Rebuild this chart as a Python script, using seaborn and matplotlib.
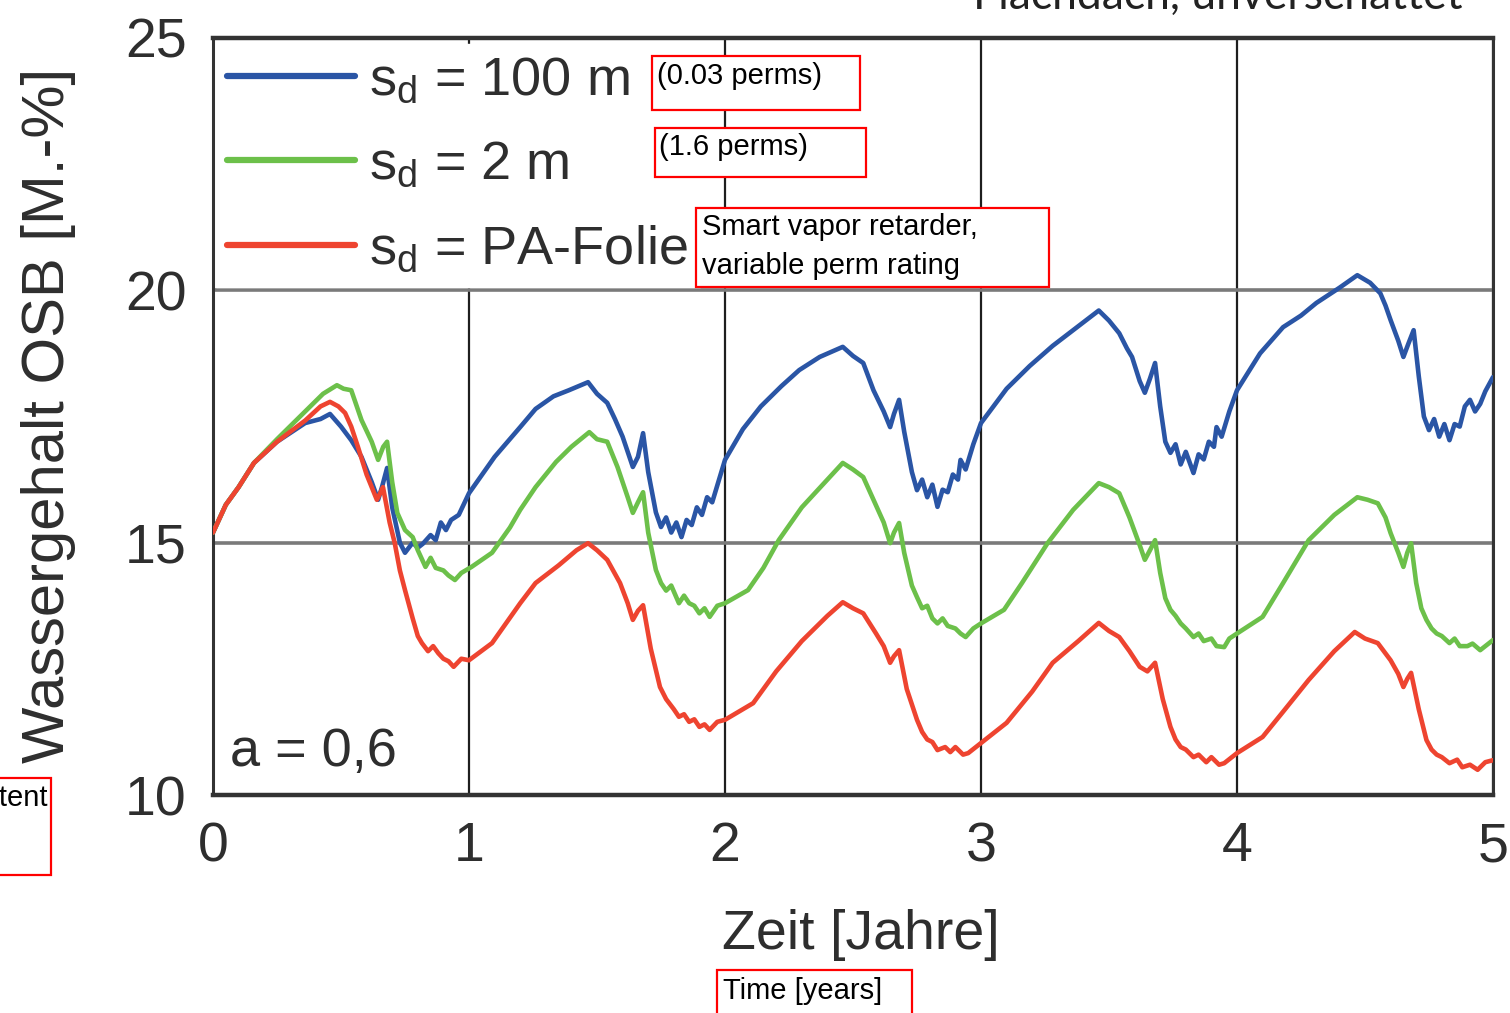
import numpy as np
import pandas as pd
import matplotlib
matplotlib.use("Agg")
import matplotlib.pyplot as plt
import seaborn as sns
from matplotlib.patches import Rectangle
from matplotlib.lines import Line2D

# ---------------- data ----------------
series_labels = ["s$_\\mathregular{d}$ = 100 m", "s$_\\mathregular{d}$ = 2 m", "s$_\\mathregular{d}$ = PA-Folie"]
series_colors = ["#2a55a5", "#6cc04a", "#ee4430"]

t_blue = [0.00, 0.05, 0.10, 0.16, 0.25, 0.36, 0.42, 0.457, 0.50, 0.54, 0.58, 0.62, 0.645, 0.66, 0.68, 0.70, 0.73, 0.75,
          0.78, 0.80, 0.82, 0.85, 0.87, 0.89, 0.91, 0.93, 0.96, 1.00, 1.10, 1.20, 1.26, 1.33, 1.39, 1.465, 1.50, 1.54,
          1.57, 1.60, 1.64, 1.66, 1.68, 1.70, 1.73, 1.75, 1.77, 1.79, 1.81, 1.83, 1.85, 1.87, 1.89, 1.91, 1.93, 1.95,
          2.00, 2.07, 2.14, 2.22, 2.29, 2.37, 2.46, 2.50, 2.54, 2.58, 2.62, 2.645, 2.66, 2.68, 2.70, 2.73, 2.75, 2.77,
          2.79, 2.81, 2.83, 2.85, 2.87, 2.89, 2.91, 2.92, 2.94, 2.97, 3.00, 3.10, 3.19, 3.28, 3.36, 3.46, 3.50, 3.54,
          3.57, 3.59, 3.62, 3.64, 3.66, 3.68, 3.70, 3.72, 3.74, 3.76, 3.78, 3.80, 3.83, 3.85, 3.87, 3.89, 3.91, 3.92,
          3.94, 3.97, 4.00, 4.09, 4.18, 4.25, 4.31, 4.40, 4.47, 4.52, 4.56, 4.58, 4.60, 4.63, 4.65, 4.67, 4.69, 4.71,
          4.73, 4.75, 4.77, 4.79, 4.81, 4.83, 4.85, 4.87, 4.89, 4.91, 4.93, 4.95, 4.97, 5.00]
v_blue = [15.20, 15.75, 16.10, 16.58, 17.00, 17.37, 17.45, 17.55, 17.30, 17.03, 16.70, 16.20, 15.85, 16.10, 16.48, 15.70,
          15.00, 14.80, 15.00, 14.90, 14.98, 15.15, 15.05, 15.40, 15.25, 15.45, 15.55, 15.98, 16.70, 17.29, 17.65, 17.90,
          18.02, 18.18, 17.95, 17.77, 17.45, 17.10, 16.50, 16.70, 17.17, 16.40, 15.60, 15.31, 15.50, 15.20, 15.40, 15.11,
          15.45, 15.35, 15.70, 15.55, 15.90, 15.80, 16.64, 17.25, 17.70, 18.10, 18.42, 18.68, 18.88, 18.70, 18.56, 18.02,
          17.60, 17.29, 17.55, 17.83, 17.20, 16.40, 16.04, 16.25, 15.90, 16.15, 15.71, 16.05, 16.00, 16.35, 16.25, 16.64,
          16.45, 16.95, 17.37, 18.05, 18.50, 18.90, 19.21, 19.60, 19.40, 19.15, 18.85, 18.68, 18.20, 17.97, 18.25, 18.56,
          17.70, 17.00, 16.78, 16.95, 16.55, 16.80, 16.38, 16.75, 16.65, 17.00, 16.90, 17.29, 17.10, 17.60, 18.02, 18.75,
          19.27, 19.50, 19.75, 20.05, 20.30, 20.15, 19.94, 19.70, 19.41, 19.00, 18.68, 18.95, 19.21, 18.30, 17.50, 17.23,
          17.45, 17.10, 17.35, 17.03, 17.35, 17.30, 17.70, 17.83, 17.60, 17.75, 18.00, 18.28]

t_green = [0.00, 0.05, 0.10, 0.16, 0.25, 0.36, 0.43, 0.484, 0.51, 0.54, 0.58, 0.62, 0.645, 0.665, 0.68, 0.70, 0.72, 0.75,
           0.78, 0.80, 0.83, 0.85, 0.87, 0.90, 0.92, 0.945, 0.97, 1.01, 1.09, 1.16, 1.20, 1.26, 1.34, 1.40, 1.47, 1.50,
           1.54, 1.58, 1.62, 1.64, 1.66, 1.68, 1.70, 1.73, 1.75, 1.77, 1.79, 1.82, 1.84, 1.86, 1.88, 1.90, 1.92, 1.94,
           1.97, 2.00, 2.09, 2.15, 2.21, 2.30, 2.40, 2.46, 2.50, 2.54, 2.58, 2.62, 2.645, 2.66, 2.68, 2.70, 2.73, 2.75,
           2.77, 2.79, 2.81, 2.83, 2.85, 2.87, 2.90, 2.92, 2.94, 2.97, 3.00, 3.09, 3.16, 3.26, 3.36, 3.46, 3.50, 3.54,
           3.58, 3.62, 3.64, 3.66, 3.68, 3.70, 3.72, 3.74, 3.76, 3.78, 3.80, 3.83, 3.85, 3.87, 3.90, 3.92, 3.95, 3.97,
           4.00, 4.10, 4.18, 4.28, 4.38, 4.47, 4.51, 4.55, 4.58, 4.60, 4.63, 4.65, 4.665, 4.68, 4.70, 4.72, 4.74, 4.76,
           4.78, 4.80, 4.83, 4.85, 4.87, 4.90, 4.92, 4.95, 4.97, 5.00]
v_green = [15.20, 15.75, 16.10, 16.58, 17.05, 17.60, 17.95, 18.12, 18.05, 18.02, 17.43, 17.00, 16.64, 16.90, 17.00, 16.20,
           15.59, 15.25, 15.11, 14.85, 14.52, 14.70, 14.50, 14.45, 14.35, 14.26, 14.40, 14.52, 14.80, 15.30, 15.65, 16.10,
           16.60, 16.90, 17.19, 17.05, 17.00, 16.50, 15.90, 15.59, 15.80, 16.00, 15.20, 14.46, 14.20, 14.05, 14.15, 13.80,
           13.95, 13.80, 13.75, 13.60, 13.70, 13.53, 13.75, 13.80, 14.06, 14.50, 15.05, 15.70, 16.25, 16.58, 16.45, 16.30,
           15.85, 15.40, 14.99, 15.20, 15.39, 14.80, 14.15, 13.92, 13.70, 13.75, 13.50, 13.40, 13.50, 13.35, 13.30, 13.20,
           13.13, 13.30, 13.40, 13.67, 14.20, 14.99, 15.65, 16.18, 16.10, 15.98, 15.50, 14.95, 14.66, 14.85, 15.05, 14.40,
           13.90, 13.67, 13.55, 13.40, 13.30, 13.13, 13.20, 13.05, 13.10, 12.95, 12.93, 13.10, 13.20, 13.53, 14.20, 15.05,
           15.55, 15.90, 15.85, 15.78, 15.50, 15.19, 14.80, 14.52, 14.80, 14.99, 14.20, 13.70, 13.47, 13.30, 13.20, 13.15,
           13.01, 13.10, 12.95, 12.95, 13.00, 12.87, 12.95, 13.07]

t_red = [0.00, 0.05, 0.10, 0.16, 0.25, 0.36, 0.42, 0.457, 0.49, 0.516, 0.54, 0.566, 0.60, 0.64, 0.655, 0.664, 0.69, 0.71,
         0.73, 0.75, 0.78, 0.80, 0.816, 0.84, 0.86, 0.88, 0.90, 0.92, 0.94, 0.97, 1.00, 1.09, 1.20, 1.26, 1.35, 1.42,
         1.465, 1.50, 1.54, 1.59, 1.62, 1.64, 1.66, 1.68, 1.71, 1.746, 1.77, 1.80, 1.82, 1.84, 1.86, 1.88, 1.90, 1.92,
         1.94, 1.97, 2.00, 2.11, 2.20, 2.30, 2.40, 2.46, 2.50, 2.54, 2.59, 2.62, 2.645, 2.66, 2.68, 2.71, 2.75, 2.77,
         2.79, 2.81, 2.83, 2.86, 2.88, 2.90, 2.93, 2.95, 2.98, 3.00, 3.10, 3.20, 3.28, 3.38, 3.46, 3.50, 3.54, 3.58,
         3.62, 3.65, 3.68, 3.71, 3.74, 3.76, 3.78, 3.80, 3.83, 3.85, 3.88, 3.90, 3.93, 3.95, 3.98, 4.00, 4.10, 4.18,
         4.28, 4.38, 4.46, 4.50, 4.55, 4.60, 4.63, 4.65, 4.665, 4.68, 4.71, 4.74, 4.76, 4.78, 4.80, 4.83, 4.86, 4.88,
         4.91, 4.94, 4.97, 5.00]
v_red = [15.20, 15.75, 16.10, 16.58, 17.00, 17.42, 17.70, 17.79, 17.70, 17.57, 17.30, 16.90, 16.35, 15.85, 16.00, 16.10,
         15.40, 14.99, 14.45, 14.06, 13.50, 13.15, 13.01, 12.85, 12.95, 12.81, 12.70, 12.65, 12.54, 12.70, 12.67, 13.01,
         13.80, 14.20, 14.55, 14.85, 14.99, 14.85, 14.66, 14.20, 13.80, 13.47, 13.65, 13.76, 12.90, 12.14, 11.90, 11.70,
         11.55, 11.60, 11.45, 11.50, 11.35, 11.40, 11.29, 11.45, 11.49, 11.82, 12.45, 13.05, 13.55, 13.82, 13.70, 13.60,
         13.20, 12.95, 12.62, 12.75, 12.87, 12.10, 11.49, 11.25, 11.10, 11.05, 10.89, 10.95, 10.85, 10.95, 10.80, 10.83,
         10.95, 11.03, 11.43, 12.05, 12.62, 13.05, 13.41, 13.25, 13.13, 12.85, 12.54, 12.45, 12.62, 11.90, 11.35, 11.10,
         10.95, 10.90, 10.75, 10.80, 10.65, 10.75, 10.60, 10.63, 10.75, 10.83, 11.15, 11.65, 12.28, 12.85, 13.23, 13.10,
         13.01, 12.67, 12.40, 12.14, 12.30, 12.42, 11.70, 11.09, 10.90, 10.80, 10.75, 10.63, 10.70, 10.55, 10.60, 10.50,
         10.65, 10.69]

x_ticks = [0, 1, 2, 3, 4, 5]
y_ticks = [10, 15, 20, 25]
x_label = "Zeit [Jahre]"
y_label = "Wassergehalt OSB [M.-%]"

# ---------------- style ----------------
sns.set_style("white")
plt.rcParams['font.family'] = ['Liberation Sans', 'DejaVu Sans']
plt.rcParams['mathtext.fontset'] = 'custom'
plt.rcParams['mathtext.rm'] = 'Liberation Sans'
plt.rcParams['mathtext.it'] = 'Liberation Sans'
plt.rcParams['mathtext.default'] = 'regular'

TXT = "#2e2e2e"
W, H = 1510, 1013
fig = plt.figure(figsize=(W / 100, H / 100), dpi=100)
fig.patch.set_facecolor("white")


def fx(px):
    return px / W


def fy(py):
    return 1 - py / H


ax = fig.add_axes([fx(213), fy(795), 1280 / W, 757 / H])

df = pd.concat([
    pd.DataFrame({"t": t_blue, "v": v_blue, "series": series_labels[0]}),
    pd.DataFrame({"t": t_green, "v": v_green, "series": series_labels[1]}),
    pd.DataFrame({"t": t_red, "v": v_red, "series": series_labels[2]}),
], ignore_index=True)

sns.lineplot(data=df, x="t", y="v", hue="series", hue_order=series_labels,
             palette=series_colors, estimator=None, sort=False, linewidth=3.3,
             legend=False, ax=ax, zorder=3)

ax.set_xlim(0, 5)
ax.set_ylim(10, 25)
ax.set_xticks(x_ticks)
ax.set_yticks(y_ticks)
ax.set_xticklabels([str(v) for v in x_ticks])
ax.set_yticklabels([str(v) for v in y_ticks])
ax.tick_params(axis="both", length=0, labelsize=40, colors=TXT)
ax.tick_params(axis="y", pad=19)
ax.tick_params(axis="x", pad=19)

ax.xaxis.grid(True, color="#1e1e1e", linewidth=1.6)
ax.yaxis.grid(True, color="#7a7a7a", linewidth=2.6)
ax.set_axisbelow(True)

for side in ["top", "bottom"]:
    ax.spines[side].set_linewidth(3.2)
    ax.spines[side].set_color("#333333")
for side in ["left", "right"]:
    ax.spines[side].set_linewidth(2.2)
    ax.spines[side].set_color("#333333")

ax.set_xlabel(x_label, fontsize=40, color=TXT, va="center")
ax.xaxis.set_label_coords((861 - 213) / 1280, (795 - 935) / 757)
ax.set_ylabel(y_label, fontsize=43, color=TXT, va="center")
ax.yaxis.set_label_coords((48 - 213) / 1280, (795 - 415) / 757)

handles = [Line2D([], [], color=c, linewidth=4.5) for c in series_colors]
leg = ax.legend(handles, series_labels, loc="upper left", bbox_to_anchor=(0.002, 0.992),
                borderaxespad=0, fontsize=39, frameon=True, facecolor="white", edgecolor="white",
                framealpha=1.0, fancybox=False, handlelength=2.35, handletextpad=0.26,
                labelspacing=0.63, borderpad=0.22)
for txt in leg.get_texts():
    txt.set_color(TXT)
leg.set_zorder(5)

ax.text((230 - 213) / 1280, (795 - 752) / 757, "a = 0,6", fontsize=39, color=TXT,
        transform=ax.transAxes, ha="left", va="center", zorder=6)

# ---------------- overlay annotation boxes ----------------
def box(x0, y0, x1, y1):
    fig.patches.append(Rectangle((fx(x0), fy(y1)), fx(x1) - fx(x0), fy(y0) - fy(y1),
                                 transform=fig.transFigure, facecolor="white",
                                 edgecolor="#ff0000", linewidth=1.6, zorder=10))


def label(x, y, s, **kw):
    fig.text(fx(x), fy(y), s, fontsize=21, color="black", ha="left", va="center",
             zorder=11, **kw)


box(652, 56, 860, 110)
label(657, 76, "(0.03 perms)")
box(655, 128, 866, 177)
label(659, 147, "(1.6 perms)")
box(696, 208, 1049, 287)
label(702, 227, "Smart vapor retarder,")
label(702, 266, "variable perm rating")
box(717, 970, 912, 1030)
label(723, 991, "Time [years]")
box(-20, 778, 51, 875)
fig.text(fx(47), fy(798), "Moisture content", fontsize=21, color="black",
         ha="right", va="center", zorder=11)

fig.text(fx(1463), fy(9), "Flachdach, unverschattet", fontsize=32, color="#222222",
         ha="right", va="baseline", family=["Lato", "DejaVu Sans"])

fig.savefig("out.png", dpi=100, facecolor="white")
